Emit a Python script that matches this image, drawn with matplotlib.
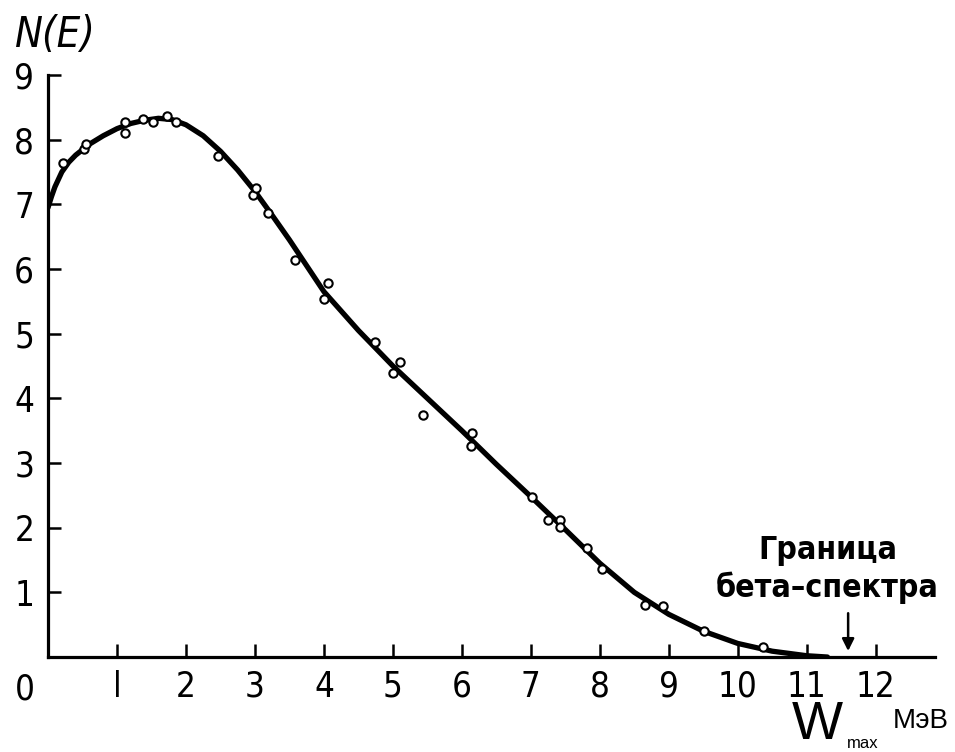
import matplotlib
matplotlib.use("Agg")
import matplotlib.pyplot as plt

# smooth fitted curve
curve_e = [0.0, 0.05, 0.1, 0.2, 0.3, 0.4, 0.6, 0.8, 1.0, 1.2, 1.4, 1.6, 1.8, 2.0,
           2.25, 2.5, 2.75, 3.0, 3.25, 3.5, 3.75, 4.0, 4.5, 5.0, 5.5, 6.0, 6.5,
           7.0, 7.5, 8.0, 8.5, 9.0, 9.5, 10.0, 10.5, 11.0, 11.3]
curve_n = [6.95, 7.12, 7.27, 7.5, 7.65, 7.76, 7.93, 8.06, 8.17, 8.25, 8.3, 8.33, 8.31, 8.23,
           8.06, 7.82, 7.53, 7.2, 6.83, 6.45, 6.05, 5.65, 5.05, 4.5, 4.0, 3.5, 2.98,
           2.48, 1.97, 1.45, 1.0, 0.66, 0.4, 0.21, 0.09, 0.02, 0.0]

# measured points (open circles)
pts_e = [0.22, 0.52, 0.55, 1.12, 1.12, 1.38, 1.52, 1.72, 1.86, 2.47, 2.97, 3.01,
         3.19, 3.58, 4.0, 4.06, 4.74, 5.0, 5.1, 5.43, 6.13, 6.14, 7.01, 7.25,
         7.42, 7.42, 7.81, 8.03, 8.65, 8.91, 9.51, 10.36]
pts_n = [7.64, 7.85, 7.94, 8.1, 8.28, 8.32, 8.27, 8.36, 8.28, 7.74, 7.15, 7.26,
         6.87, 6.14, 5.53, 5.78, 4.87, 4.39, 4.56, 3.74, 3.26, 3.46, 2.48, 2.12,
         2.12, 2.01, 1.68, 1.36, 0.8, 0.79, 0.41, 0.16]

x_ticks = [1, 2, 3, 4, 5, 6, 7, 8, 9, 10, 11, 12]
x_labels = ["l", "2", "3", "4", "5", "6", "7", "8", "9", "10", "11", "12"]
y_ticks = [1, 2, 3, 4, 5, 6, 7, 8, 9]

boundary_e = 11.6

plt.rcParams["font.family"] = ["DejaVu Sans"]
plt.rcParams["font.stretch"] = "condensed"

fig = plt.figure(figsize=(9.55, 7.52), dpi=100)
ax = fig.add_axes([0.0503, 0.1263, 0.9288, 0.774])

ax.plot(curve_e, curve_n, color="black", lw=3.8, solid_capstyle="round",
        solid_joinstyle="round", zorder=2)
ax.plot(pts_e, pts_n, ls="none", marker="o", ms=6, mfc="white",
        mec="black", mew=1.5, zorder=3)

ax.set_xlim(0, 12.86)
ax.set_ylim(0, 9)
for s in ["top", "right"]:
    ax.spines[s].set_visible(False)
for s in ["left", "bottom"]:
    ax.spines[s].set_linewidth(2.3)

ax.set_xticks(x_ticks)
ax.set_xticklabels(x_labels)
ax.set_yticks(y_ticks)
ax.tick_params(axis="both", direction="in", length=9.5, width=1.8,
               labelsize=25, color="black")
ax.tick_params(axis="x", pad=9)
ax.tick_params(axis="y", pad=10)

ax.text(-0.026, -0.027, "0", transform=ax.transAxes, fontsize=25,
        ha="center", va="top")

fig.text(0.016, 0.953, "N(E)", fontsize=30, style="italic", ha="left",
         va="center")

ax.text(11.3, 1.64, "Граница", fontsize=23, fontweight="bold",
        ha="center", va="center")
ax.text(11.3, 1.07, "бета\u2013спектра", fontsize=23, fontweight="bold",
        ha="center", va="center")
ax.annotate("", xy=(boundary_e, 0.05), xytext=(boundary_e, 0.72),
            arrowprops=dict(arrowstyle="-|>", color="black", lw=1.8,
                            mutation_scale=18))

fig.text(0.8555, 0.002, "W", fontsize=39, family="Liberation Sans",
         ha="center", va="bottom")
fig.text(0.887, 0.011, "max", fontsize=12, family="Liberation Sans",
         ha="left", va="center")
fig.text(0.935, 0.041, "МэВ", fontsize=20, family="Liberation Sans",
         ha="left", va="center")

fig.savefig("out.png", dpi=100)
